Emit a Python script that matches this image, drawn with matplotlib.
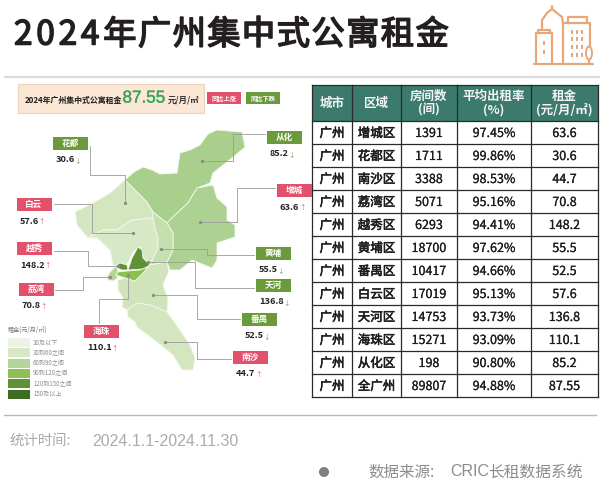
import matplotlib
matplotlib.use("Agg")
import matplotlib.pyplot as plt
import matplotlib.patheffects as pe
from matplotlib.patches import Polygon, Rectangle, Circle, Ellipse

plt.rcParams['font.family'] = ['Noto Sans CJK SC', 'DejaVu Sans']

# ---- data ----
districts = ['增城区', '花都区', '南沙区', '荔湾区', '越秀区', '黄埔区', '番禺区', '白云区', '天河区', '海珠区', '从化区', '全广州']
rooms = [1391, 1711, 3388, 5071, 6293, 18700, 10417, 17019, 14753, 15271, 198, 89807]
rates = ['97.45%', '99.86%', '98.53%', '95.16%', '94.41%', '97.62%', '94.66%', '95.13%', '93.73%', '93.09%', '90.80%', '94.88%']
rents = ['63.6', '30.6', '44.7', '70.8', '148.2', '55.5', '52.5', '57.6', '136.8', '110.1', '85.2', '87.55']
headers = ['城市', '区域', '房间数\n(间)', '平均出租率\n(%)', '租金\n(元/月/㎡)']
legend_labels = ['30及以下', '30到60之间', '60到90之间', '90到120之间', '120到150之间', '150及以上']
legend_colors = ['#eef2e6', '#d6e8c4', '#b5d69a', '#8cc152', '#5f9234', '#3d6b1f']
rising = {'增城', '白云', '越秀', '荔湾', '海珠', '南沙'}

# ---- map outlines (pixel geometry of the base map) ----
shapes = {
    '从化': ('#a9cf8d', [(125,180),(134,172),(143,167),(152,170),(160,174),(177,173),(180,153),(190,150),(200,145),(208,134),(217,130),(229,131),(242,132),(245,147),(232,158),(213,173),(210,183),(197,188),(188,203),(175,215),(167,223),(153,212),(147,202)]),
    '增城': ('#acd192', [(197,188),(213,185),(217,198),(227,207),(227,220),(235,225),(235,237),(217,243),(217,260),(212,268),(192,260),(180,270),(170,270),(167,262),(173,250),(173,233),(167,223),(175,215),(188,203)]),
    '花都': ('#d3e6bf', [(125,180),(147,202),(153,212),(153,218),(132,220),(117,230),(103,230),(88,238),(77,225),(75,212),(93,203),(110,193)]),
    '白云': ('#d7e8c6', [(88,238),(103,230),(117,230),(132,220),(153,218),(155,228),(158,237),(158,248),(150,265),(143,257),(140,247),(133,252),(128,263),(122,267),(113,265),(110,250),(97,238)]),
    '黄埔': ('#c5dfae', [(153,212),(167,223),(173,233),(173,250),(167,262),(150,265),(158,248),(158,237),(155,228),(153,218)]),
    '番禺': ('#cfe4bb', [(118,280),(125,278),(135,281),(148,267),(150,265),(167,262),(169,271),(163,285),(168,298),(167,312),(150,305),(137,303),(127,310),(122,307),(123,298),(118,290)]),
    '南沙': ('#d3e6c0', [(127,310),(137,303),(150,305),(167,312),(180,330),(190,345),(195,358),(193,370),(182,370),(173,355),(157,342),(137,327),(135,322),(128,317)]),
    '荔湾': ('#b5d69a', [(107,277),(110,272),(117,265),(117,268),(118,272),(116,275),(118,278),(113,281),(108,280)]),
    '越秀': ('#5f9234', [(117,265),(120,263),(127,265),(128,270),(122,270),(117,268)]),
    '天河': ('#5f9234', [(128,270),(132,258),(138,247),(142,250),(143,258),(150,265),(143,269)]),
    '海珠': ('#8cc152', [(116,275),(118,272),(127,271),(140,270),(148,267),(143,273),(135,281),(125,278)]),
}
# ---- callout layout: box left, box top, leader path ----
callouts = {
    '花都': (53, 137, [(90,146),(90,175),(125,175),(125,203)]),
    '从化': (267, 131, [(265,134),(233,134),(233,161),(202,161)]),
    '增城': (277, 184, [(275,188),(237,188),(237,222),(200,222)]),
    '白云': (17, 198, [(54,204),(92,204),(92,233),(133,233)]),
    '越秀': (17, 242, [(54,251),(88,251),(88,266),(118,266)]),
    '荔湾': (19, 283, [(55,290),(83,290),(83,277),(110,277)]),
    '海珠': (84, 325, [(99,323),(99,299),(128,299),(128,275)]),
    '黄埔': (256, 247, [(254,255),(207,255),(207,249),(161,249)]),
    '天河': (256, 279, [(254,288),(195,288),(195,262),(148,262)]),
    '番禺': (242, 313, [(240,319),(197,319),(197,295),(153,295)]),
    '南沙': (233, 351, [(231,359),(197,359),(197,342),(165,342)]),
}
rent_by_name = {d[:2]: r for d, r in zip(districts, rents)}

fig = plt.figure(figsize=(6, 5), dpi=100, facecolor='white')
ax = fig.add_axes([0, 0, 1, 1])
ax.set_xlim(0, 600); ax.set_ylim(500, 0); ax.axis('off')
renderer = fig.canvas.get_renderer()

def thick(w, c):
    return [pe.withStroke(linewidth=w, foreground=c)]

# title, set glyph by glyph for its wide tracking
title = '2024年广州集中式公寓租金'
tx = 14.0
for ch in title:
    ax.text(tx, 35, ch, fontsize=24, color='#231f20', va='center', ha='left',
            path_effects=thick(1.1, '#231f20'))
    tx += 22.3 if ch.isdigit() else 34.7
ax.plot([5, 600], [77, 77], color='#dcdcdc', lw=1.6)

# icon
ic = '#e9a777'
icon_lines = [
    [(536,63),(536,33),(552,33)], [(538,33),(538,30),(550,30),(550,33)],
    [(542,30),(542,20),(547,13),(552,9),(557,13),(562,17),(563,23)], [(552,9),(552,6)],
    [(552,33),(552,63)], [(563,63),(563,23),(590,23),(590,47)], [(568,23),(568,17),(587,17),(587,23)],
    [(534,64),(593,64)], [(589,59),(589,64)],
]
for p in icon_lines:
    ax.plot(*zip(*p), color=ic, lw=1.6, solid_capstyle='round')
for cx in (572, 577, 582):
    for cy in (32, 39, 47, 55):
        ax.add_patch(Rectangle((cx-1, cy-2), 2, 4, color=ic, lw=0))
for cy in (43, 52):
    ax.add_patch(Rectangle((543, cy-2), 2, 4, color=ic, lw=0))
ax.add_patch(Ellipse((589, 53), 6, 13, fill=True, fc='white', ec=ic, lw=1.4, zorder=3))

# summary banner
ax.add_patch(Rectangle((18, 84), 186, 29, fc='#fbe7d6', ec='#ecd3ba', lw=0.8))
ax.text(25, 100, '2024年广州集中式公寓租金', fontsize=5.7, fontweight='bold', color='#1c1c1c', va='center')
ax.text(122.5, 98, rents[-1], fontsize=12.3, color='#3fa35c', va='center', family='Liberation Sans',
        path_effects=thick(0.3, '#3fa35c'))
ax.text(168, 100, '元/月/㎡', fontsize=6, fontweight='bold', color='#333333', va='center')
ax.add_patch(Rectangle((207, 92), 34, 12, fc='#e2506b', lw=0))
ax.text(224, 98, '同比上涨', fontsize=4.5, color='white', ha='center', va='center', fontweight='bold')
ax.add_patch(Rectangle((246, 92), 34, 12, fc='#6b9a3a', lw=0))
ax.text(263, 98, '同比下跌', fontsize=4.5, color='white', ha='center', va='center', fontweight='bold')

# map
for name, (col, pts) in shapes.items():
    ax.add_patch(Polygon(pts, closed=True, fc=col, ec='#f4f8ee', lw=0.6, zorder=2))

# callouts
for name, (bx, by, path) in callouts.items():
    up = name in rising
    col = '#e2506b' if up else '#6b9a3a'
    ax.plot(*zip(*path), color='#9a9a9a', lw=0.6, zorder=4)
    ax.plot(*path[-1], 'o', ms=1.3, color='#888888', zorder=4)
    ax.add_patch(Rectangle((bx, by), 34.5, 13, fc=col, lw=0, zorder=5))
    ax.text(bx+17, by+6.3, name, fontsize=6.2, color='white', fontweight='bold', ha='center', va='center', zorder=6)
    val = rent_by_name[name]
    t = ax.text(bx+3, by+23, val, fontsize=6.6, fontweight='bold', color='#222222', va='center', zorder=6)
    right = t.get_window_extent(renderer).x1
    ax.text(right-0.5, by+23, '↑' if up else '↓', fontsize=4.6, color=col, va='center', zorder=6)

# legend
ax.text(8, 330, '租金(元/月/㎡)', fontsize=4.4, color='#777777', va='center')
for i, (lab, c) in enumerate(zip(legend_labels, legend_colors)):
    y = 338 + i*10.3
    ax.add_patch(Rectangle((8, y), 22, 9, fc=c, lw=0))
    ax.text(33, y+4.5, lab, fontsize=4.4, color='#8a8a8a', va='center')

# table
col_x = [312, 352, 401, 457, 531, 598]
head_top, head_bot, row_h = 85, 121, 23.0
ax.add_patch(Rectangle((col_x[0], head_top), col_x[-1]-col_x[0], head_bot-head_top, fc='#3b7a6c', lw=0))
for i, h in enumerate(headers):
    ax.text((col_x[i]+col_x[i+1])/2, (head_top+head_bot)/2, h, fontsize=9, fontweight='bold',
            color='#f4f4f4', ha='center', va='center', linespacing=1.05)
nrows = len(districts)
bottom = head_bot + nrows*row_h
for x in col_x:
    ax.plot([x, x], [head_top, bottom], color='#2a2a2a', lw=0.9)
for i in range(nrows+1):
    y = head_bot + i*row_h
    ax.plot([col_x[0], col_x[-1]], [y, y], color='#2a2a2a', lw=0.9)
ax.plot([col_x[0], col_x[-1]], [head_top, head_top], color='#2a2a2a', lw=0.9)
for i, (d, n, r, v) in enumerate(zip(districts, rooms, rates, rents)):
    y = head_bot + (i+0.5)*row_h + 1
    cells = ['广州', d, str(n), r, v]
    for j, s in enumerate(cells):
        w = 0.4 if j < 2 else 0.15
        ax.text((col_x[j]+col_x[j+1])/2, y, s, fontsize=9, color='#1c1c1c', ha='center', va='center',
                path_effects=thick(w, '#1c1c1c'))

# footer
ax.plot([4, 596], [415, 415], color='#b8b8b8', lw=1)
ax.text(10, 441, '统计时间:', fontsize=10.4, color='#ababab', va='center')
ax.text(92, 441, '2024.1.1-2024.11.30', fontsize=11.5, color='#ababab', va='center', family='Liberation Sans')
ax.add_patch(Circle((324, 472), 5, fc='#808080', lw=0))
ax.text(368, 472, '数据来源:', fontsize=11.2, color='#8c8c8c', va='center')
ax.text(450, 472, 'CRIC', fontsize=11.5, color='#8c8c8c', va='center', family='Liberation Sans')
ax.text(488, 472, '长租数据系统', fontsize=11.3, color='#8c8c8c', va='center')

fig.savefig('out.png', dpi=100, facecolor='white')
